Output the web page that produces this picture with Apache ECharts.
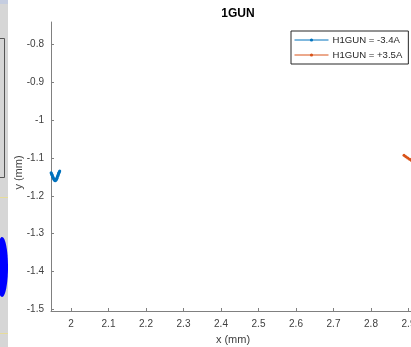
<!DOCTYPE html>
<html>
<head>
<meta charset="utf-8">
<script src="https://cdn.jsdelivr.net/npm/echarts@6/dist/echarts.min.js"></script>
<style>
  html, body { margin: 0; padding: 0; background: #ffffff; }
  #chart { width: 411px; height: 347px; }
</style>
</head>
<body>
<div id="chart"></div>
<script>
// Beam centroid traces for the two H1GUN settings
const negName = 'H1GUN = -3.4A';
const negX = [1.9470, 1.9490, 1.9515, 1.9540, 1.9560, 1.9580, 1.9600, 1.9625, 1.9650, 1.9675, 1.9700];
const negY = [-1.1390, -1.1440, -1.1500, -1.1555, -1.1590, -1.1600, -1.1585, -1.1540, -1.1470, -1.1400, -1.1345];

const posName = 'H1GUN = +3.5A';
const posX = [2.8880, 2.8930, 2.8980, 2.9030, 2.9080, 2.9150];
const posY = [-1.0930, -1.0965, -1.1000, -1.1035, -1.1065, -1.1110];

// Axis ticks
const xTicks = [2.0, 2.1, 2.2, 2.3, 2.4, 2.5, 2.6, 2.7, 2.8, 2.9];
const yTicks = [-0.8, -0.9, -1.0, -1.1, -1.2, -1.3, -1.4, -1.5];

const zip = (xs, ys) => xs.map((x, i) => [x, ys[i]]);

const axisGray = '#808080';
const textGray = '#404040';
const font = 'Liberation Sans, Arial, Helvetica, sans-serif';

const chart = echarts.init(document.getElementById('chart'), null, { renderer: 'canvas' });

chart.setOption({
  animation: false,
  backgroundColor: '#ffffff',
  title: {
    text: '1GUN',
    left: 233,
    top: 3,
    textAlign: 'center',
    textStyle: { fontFamily: font, fontSize: 12, fontWeight: 'bold', color: '#000000' }
  },
  grid: { left: 51, top: 22, right: -4, bottom: 36, outerBoundsMode: 'none', containLabel: false },
  legend: {
    orient: 'vertical',
    left: 291,
    top: 31,
    padding: [4, 6, 4, 3],
    itemGap: 5,
    itemWidth: 34,
    itemHeight: 4,
    borderColor: '#262626',
    borderWidth: 1,
    backgroundColor: '#ffffff',
    lineStyle: { width: 1 },
    itemStyle: { borderWidth: 0 },
    textStyle: { fontFamily: font, fontSize: 9.6, color: '#262626', padding: [0, 0, 0, -1] },
    data: [negName, posName]
  },
  xAxis: {
    type: 'value',
    min: 1.9467,
    max: 2.9173,
    name: 'x (mm)',
    nameLocation: 'middle',
    nameGap: 23,
    nameMoveOverlap: false,
    nameTextStyle: { fontFamily: font, fontSize: 11, color: textGray },
    axisLine: { show: true, onZero: false, lineStyle: { color: axisGray, width: 1 } },
    axisTick: { show: true, inside: true, length: 3, customValues: xTicks, lineStyle: { color: axisGray } },
    axisLabel: { customValues: xTicks, fontFamily: font, fontSize: 10, color: textGray, margin: 8 },
    splitLine: { show: false }
  },
  yAxis: {
    type: 'value',
    min: -1.505,
    max: -0.74,
    name: 'y (mm)',
    nameLocation: 'middle',
    nameGap: 27,
    nameMoveOverlap: false,
    nameTextStyle: { fontFamily: font, fontSize: 11, color: textGray, padding: [0, 12, 0, 0] },
    axisLine: { show: true, onZero: false, lineStyle: { color: axisGray, width: 1 } },
    axisTick: { show: true, inside: true, length: 3, customValues: yTicks, lineStyle: { color: axisGray } },
    axisLabel: { customValues: yTicks, fontFamily: font, fontSize: 10, color: textGray, margin: 7 },
    splitLine: { show: false }
  },
  series: [
    {
      name: negName,
      type: 'line',
      data: zip(negX, negY),
      clip: true,
      symbol: 'circle',
      symbolSize: 3,
      showAllSymbol: true,
      itemStyle: { color: '#0072BD' },
      lineStyle: { color: '#0072BD', width: 3 }
    },
    {
      name: posName,
      type: 'line',
      data: zip(posX, posY),
      clip: true,
      symbol: 'circle',
      symbolSize: 3,
      showAllSymbol: true,
      itemStyle: { color: '#D95319' },
      lineStyle: { color: '#D95319', width: 2 }
    }
  ],
  // Neighbouring panel edge on the left of the figure window
  graphic: [
    { type: 'rect', left: 0, top: 0, shape: { width: 8, height: 347 }, style: { fill: '#d6d6d6' }, silent: true },
    { type: 'rect', left: 0, top: 0, shape: { width: 8, height: 4 }, style: { fill: '#c5cde0' }, silent: true },
    { type: 'polyline', shape: { points: [[0, 38.5], [4.5, 38.5], [4.5, 177.5], [0, 177.5]] }, style: { stroke: '#555555', lineWidth: 1, fill: null }, silent: true },
    { type: 'line', shape: { x1: 0, y1: 197.5, x2: 8, y2: 197.5 }, style: { stroke: '#e6dc9a', lineWidth: 1 }, silent: true },
    { type: 'line', shape: { x1: 0, y1: 333.5, x2: 8, y2: 333.5 }, style: { stroke: '#e6dc9a', lineWidth: 1 }, silent: true },
    { type: 'ellipse', shape: { cx: 2, cy: 267, rx: 6, ry: 30 }, style: { fill: '#0000ff' }, silent: true }
  ]
});
</script>
</body>
</html>
